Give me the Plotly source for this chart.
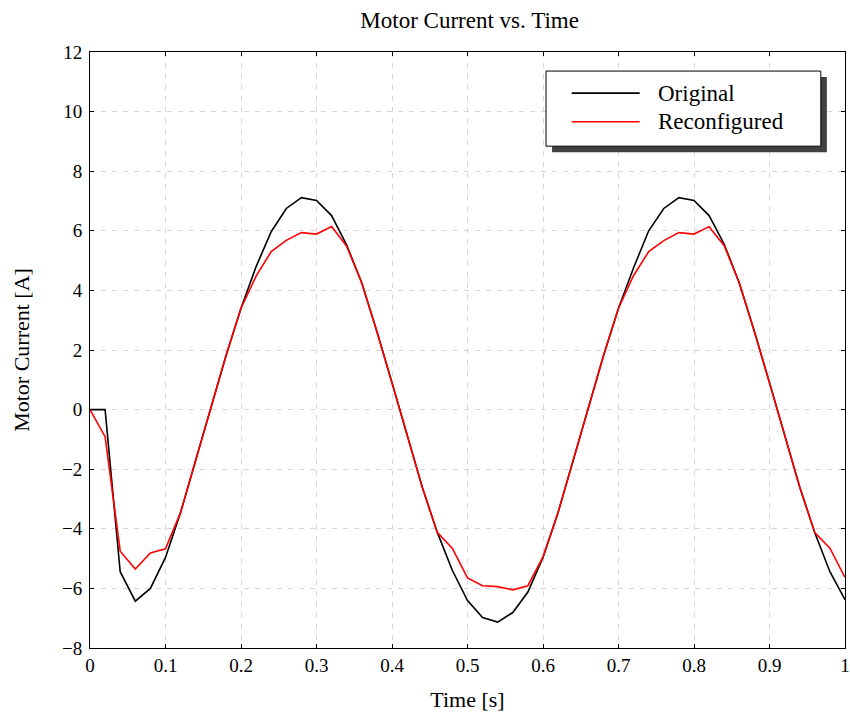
import plotly.graph_objects as go

time_s = [round(i * 0.02, 2) for i in range(51)]

original = [0.0, 0.0, -5.44, -6.43, -6.0, -4.96, -3.45, -1.7, 0.1, 1.8,
            3.4, 4.8, 5.97, 6.75, 7.11, 7.02, 6.51, 5.52, 4.25, 2.62,
            0.9, -0.88, -2.6, -4.12, -5.4, -6.41, -6.98, -7.13, -6.81, -6.12,
            -4.96, -3.45, -1.7, 0.1, 1.8, 3.4, 4.76, 6.0, 6.75, 7.11,
            7.02, 6.51, 5.55, 4.25, 2.62, 0.9, -0.88, -2.6, -4.13, -5.44, -6.38]

reconfigured = [0.0, -0.91, -4.75, -5.35, -4.81, -4.67, -3.45, -1.7, 0.1, 1.8,
                3.4, 4.48, 5.3, 5.68, 5.94, 5.89, 6.14, 5.48, 4.25, 2.62,
                0.9, -0.88, -2.6, -4.12, -4.66, -5.65, -5.91, -5.94, -6.05, -5.91,
                -4.94, -3.45, -1.7, 0.1, 1.8, 3.4, 4.5, 5.3, 5.67, 5.94,
                5.89, 6.14, 5.5, 4.25, 2.62, 0.9, -0.88, -2.6, -4.13, -4.65, -5.63]

series_names = ["Original", "Reconfigured"]
series_colors = ["#000000", "#ff0000"]

x_ticks = [0, 0.1, 0.2, 0.3, 0.4, 0.5, 0.6, 0.7, 0.8, 0.9, 1]
x_tick_labels = ["0", "0.1", "0.2", "0.3", "0.4", "0.5", "0.6", "0.7", "0.8", "0.9", "1"]
y_ticks = [-8, -6, -4, -2, 0, 2, 4, 6, 8, 10, 12]
y_tick_labels = ["\u22128", "\u22126", "\u22124", "\u22122", "0", "2", "4", "6", "8", "10", "12"]

FONT = "Liberation Serif"

fig = go.Figure()
for name, ys, col in zip(series_names, [original, reconfigured], series_colors):
    fig.add_trace(go.Scatter(x=time_s, y=ys, mode="lines", name=name,
                             line=dict(color=col, width=1.6), showlegend=False))

axis_common = dict(showline=True, linecolor="black", linewidth=1, mirror="allticks",
                   ticks="inside", ticklen=4, tickcolor="black", tickwidth=1,
                   showgrid=True, gridcolor="#d6d6d6", griddash="5px,6px", gridwidth=1,
                   zeroline=False, automargin=False,
                   tickfont=dict(family=FONT, size=19, color="black"))

fig.update_xaxes(range=[0, 1], tickvals=x_ticks, ticktext=x_tick_labels,
                 title=dict(text="Time [s]", font=dict(family=FONT, size=22, color="black"), standoff=16),
                 **axis_common)
fig.update_yaxes(range=[-8, 12], tickvals=y_ticks, ticktext=y_tick_labels,
                 ticklabelstandoff=3,
                 title=dict(text="Motor Current [A]", font=dict(family=FONT, size=22, color="black"), standoff=26),
                 **axis_common)

# manual legend with shadow
shapes = [
    dict(type="rect", xref="paper", yref="paper", x0=0.612, x1=0.976, y0=0.832, y1=0.958,
         fillcolor="#404040", line=dict(width=0), layer="above"),
    dict(type="rect", xref="paper", yref="paper", x0=0.604, x1=0.968, y0=0.842, y1=0.968,
         fillcolor="white", line=dict(color="black", width=1), layer="above"),
]
annotations = []
legend_rows_y = [0.931, 0.883]
for name, col, yy in zip(series_names, series_colors, legend_rows_y):
    shapes.append(dict(type="line", xref="paper", yref="paper", x0=0.638, x1=0.728, y0=yy, y1=yy,
                       line=dict(color=col, width=1.6), layer="above"))
    annotations.append(dict(xref="paper", yref="paper", x=0.750, y=yy, text=name, showarrow=False,
                            xanchor="left", yanchor="middle",
                            font=dict(family=FONT, size=23, color="black")))

fig.update_layout(
    width=850, height=717,
    margin=dict(l=90, r=5, t=52, b=69),
    plot_bgcolor="white", paper_bgcolor="white",
    title=dict(text="Motor Current vs. Time", x=0.5525, xanchor="center", y=0.972, yanchor="middle",
               font=dict(family=FONT, size=23, color="black")),
    shapes=shapes, annotations=annotations,
    showlegend=False,
)

fig.write_html("out.html")
